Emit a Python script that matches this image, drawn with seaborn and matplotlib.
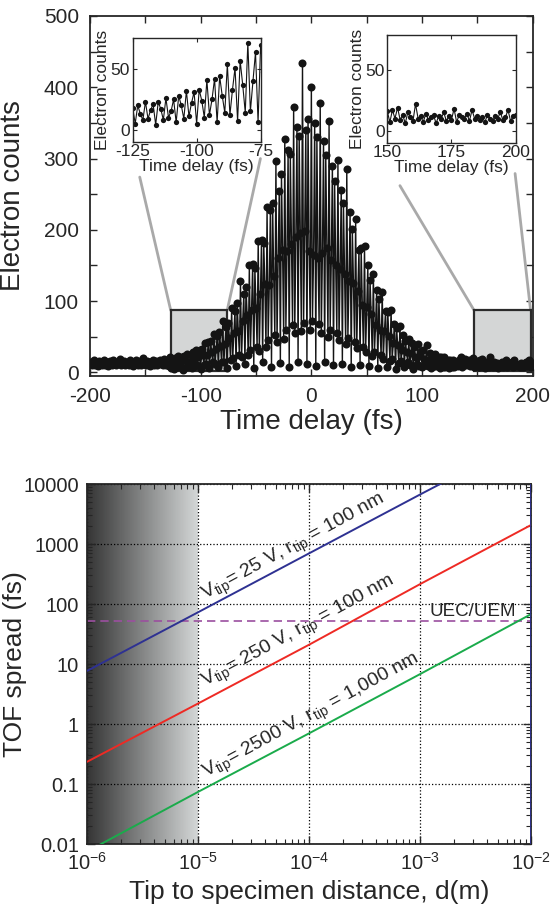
import numpy as np
import pandas as pd
import matplotlib
matplotlib.use('Agg')
import matplotlib.pyplot as plt
from matplotlib.patches import Rectangle
from matplotlib.colors import LinearSegmentedColormap
from matplotlib.ticker import MultipleLocator, LogLocator, NullFormatter
import seaborn as sns

sns.set_style('ticks')
plt.rcParams['font.family'] = ['Liberation Sans', 'DejaVu Sans']
plt.rcParams['mathtext.fontset'] = 'custom'
plt.rcParams['mathtext.rm'] = 'Liberation Sans'
plt.rcParams['mathtext.it'] = 'Liberation Sans:italic'
plt.rcParams['mathtext.bf'] = 'Liberation Sans:bold'
plt.rcParams['axes.unicode_minus'] = False

# ---- top panel: electron counts vs time delay (1 fs scan grid) ----
time_delay = np.arange(-200, 201)

counts_left_baseline = [
    12, 15, 10, 14, 17, 11, 13, 9, 16, 12,
    14, 10, 13, 18, 11, 15, 9, 12, 16, 13,
    11, 17, 12, 14, 10, 15, 13, 19, 11, 14,
    12, 16, 10, 13, 15, 11, 18, 12, 14, 9,
    15, 12, 17, 11, 13, 16, 10, 14, 20, 12,
    13, 11, 16, 14, 9, 15, 12, 18, 11, 14,
    16, 10, 13, 17, 12, 15, 11, 19, 13, 10,
]  # -200 .. -131

counts_fringes = [
    12, 9, 21, 6, 15, 18, 5, 20,
    13, 8, 23, 9, 16, 21, 4, 23,
    17, 8, 26, 10, 15, 25, 6, 28,
    20, 9, 32, 11, 22, 31, 5, 33,
    24, 10, 41, 12, 25, 42, 6, 44,
    28, 14, 54, 12, 33, 51, 7, 57,
    37, 14, 72, 15, 40, 64, 6, 70,
    48, 17, 90, 20, 55, 86, 9, 98,
    58, 25, 128, 21, 72, 110, 12, 120,
    80, 24, 150, 31, 88, 152, 6, 146,
    90, 36, 185, 30, 110, 186, 14, 181,
    124, 35, 232, 45, 122, 228, 7, 238,
    135, 52, 296, 43, 160, 255, 13, 279,
    172, 47, 328, 60, 170, 312, 8, 306,
    180, 66, 372, 55, 190, 344, 15, 331,
    195, 58, 434, 70, 198, 340, 12, 356,
    170, 60, 401, 72, 165, 350, 9, 330,
    160, 68, 378, 55, 168, 325, 14, 305,
    175, 50, 352, 60, 158, 290, 10, 268,
    150, 55, 298, 45, 145, 256, 12, 238,
    138, 40, 285, 48, 128, 225, 7, 201,
    126, 42, 215, 34, 114, 172, 11, 174,
    95, 35, 178, 28, 92, 150, 9, 130,
    82, 23, 138, 28, 67, 116, 6, 103,
    60, 24, 113, 19, 58, 86, 8, 85,
    51, 16, 88, 19, 41, 68, 5, 62,
    38, 13, 65, 16, 31, 52, 7, 44,
    28, 14, 47, 10, 27, 41, 5, 36,
    22, 12, 40, 9, 23, 30, 8, 31,
    19, 11, 38, 9, 18, 27, 6, 22,
    16, 9, 26, 9, 15, 21, 6, 21,
    14, 8, 21, 8, 13, 18, 6, 17,
    12, 8, 18, 8, 12,
]  # -130 .. 130

counts_right_baseline = [
    14, 9, 18, 11, 21, 8, 15, 12, 19, 10,
    13, 17, 9, 15, 11, 20, 8, 14, 12, 16,
    7, 17, 10, 19, 9, 13, 6, 15, 11, 8,
    22, 10, 12, 7, 14, 9, 11, 13, 6, 12,
    10, 15, 8, 12, 9, 18, 7, 13, 11, 10,
    14, 8, 17, 10, 12, 9, 11, 7, 13, 10,
    8, 12, 10, 15, 9, 11, 17, 8, 12, 13,
]  # 131 .. 200

counts = np.array(counts_left_baseline + counts_fringes + counts_right_baseline)
scan = pd.DataFrame({'delay': time_delay, 'counts': counts})

zoom_windows = [(-125, -75), (150, 200)]
zoom_boxes = [(-127, -76), (147, 198)]
box_y = (2, 87)
# connector ends (from box corner up toward the inset)
connectors = [((-127, 87), (-155, 274)), ((-76, 87), (-46, 300)),
              ((147, 87), (80, 262)), ((198, 87), (184, 279))]

# ---- bottom panel: TOF spread vs tip-specimen distance ----
distance = [1e-6, 1e-5, 1e-4, 1e-3, 1e-2]
tof_25V = [7.7, 73, 700, 6700, 62000]
tof_250V = [0.235, 2.2, 21, 215, 2080]
tof_2500V = [0.0075, 0.074, 0.70, 6.8, 68]
uec_level = 52

fig = plt.figure(figsize=(5.55, 9.09), dpi=100)

# main top axes
ax1 = fig.add_axes([0.162, 0.5864, 0.798, 0.396])
for (x0, x1) in zoom_boxes:
    ax1.add_patch(Rectangle((x0, box_y[0]), x1 - x0, box_y[1] - box_y[0],
                            facecolor='#d4d6d6', edgecolor='#2b2b2b', lw=1.6, zorder=1))
for (a, b) in connectors:
    ax1.plot([a[0], b[0]], [a[1], b[1]], color='#a9a9a9', lw=2, zorder=0.8)

sns.lineplot(data=scan, x='delay', y='counts', ax=ax1, sort=False, color='#141414',
             lw=1.0, marker='o', markersize=5.8, markeredgewidth=0, zorder=3)
ax1.set_xlim(-200, 200)
ax1.set_ylim(-5, 500)
ax1.xaxis.set_major_locator(MultipleLocator(100))
ax1.xaxis.set_minor_locator(MultipleLocator(50))
ax1.yaxis.set_major_locator(MultipleLocator(100))
ax1.yaxis.set_minor_locator(MultipleLocator(50))
ax1.tick_params(which='both', direction='in', top=True, right=True, length=5, width=1,
                labelsize=15, pad=8)
ax1.set_xlabel('Time delay (fs)', fontsize=20, labelpad=2)
ax1.set_ylabel('Electron counts', fontsize=20)
ax1.yaxis.set_label_coords(-0.145, 0.5)
for s in ax1.spines.values():
    s.set_linewidth(1.3)

# insets
inset_rects = [[0.239, 0.8441, 0.2306, 0.1138], [0.6978, 0.843, 0.2314, 0.1185]]
inset_ylims = [(-10, 75.5), (-10, 79)]
for rect, (lo, hi), ylim in zip(inset_rects, zoom_windows, inset_ylims):
    axi = fig.add_axes(rect)
    sub = scan[(scan['delay'] >= lo - 1) & (scan['delay'] <= hi + 1)]
    sns.lineplot(data=sub, x='delay', y='counts', ax=axi, sort=False, color='#141414',
                 lw=0.8, marker='o', markersize=3.8, markeredgewidth=0)
    axi.set_xlim(lo, hi)
    axi.set_ylim(*ylim)
    axi.set_xticks([lo, (lo + hi) / 2, hi])
    axi.set_xticklabels([f'{v:g}' for v in [lo, (lo + hi) / 2, hi]])
    axi.set_yticks([0, 50])
    axi.tick_params(direction='in', top=True, right=True, length=3, width=0.8,
                    labelsize=12.5, pad=2)
    axi.set_xlabel('Time delay (fs)', fontsize=12.5, labelpad=0)
    axi.set_ylabel('Electron counts', fontsize=12.5, labelpad=0)
    for s in axi.spines.values():
        s.set_linewidth(1)

# bottom axes
ax2 = fig.add_axes([0.157, 0.0715, 0.8, 0.396])
ax2.set_xscale('log')
ax2.set_yscale('log')

shade = LinearSegmentedColormap.from_list('shade', ['#353535', '#d3d6d6'])
edges = np.logspace(-6, -5, 201)
ax2.pcolormesh(edges, [0.01, 10000], np.linspace(0, 1, 200)[None, :], cmap=shade,
               shading='flat', zorder=0)

tof = pd.DataFrame({
    'distance': distance * 3,
    'tof': tof_25V + tof_250V + tof_2500V,
    'series': ['25 V'] * 5 + ['250 V'] * 5 + ['2500 V'] * 5,
})
sns.lineplot(data=tof, x='distance', y='tof', hue='series', ax=ax2, legend=False,
             palette={'25 V': '#2e3192', '250 V': '#ee2a24', '2500 V': '#1aab4b'},
             lw=1.4, zorder=3)
ax2.axhline(uec_level, color='#9b4f9f', ls=(0, (5, 3)), lw=1.2, zorder=2)
ax2.axvline(1e-2, color='#2e3192', lw=2, zorder=4)

ax2.set_xlim(1e-6, 1e-2)
ax2.set_ylim(0.01, 10000)
ax2.set_xticks([1e-6, 1e-5, 1e-4, 1e-3, 1e-2],
               [r'$10^{-6}$', r'$10^{-5}$', r'$10^{-4}$', r'$10^{-3}$', r'$10^{-2}$'])
ax2.set_yticks([0.01, 0.1, 1, 10, 100, 1000, 10000],
               ['0.01', '0.1', '1', '10', '100', '1000', '10000'])
ax2.xaxis.set_minor_locator(LogLocator(base=10, subs=np.arange(2, 10), numticks=20))
ax2.yaxis.set_minor_locator(LogLocator(base=10, subs=np.arange(2, 10), numticks=20))
ax2.xaxis.set_minor_formatter(NullFormatter())
ax2.yaxis.set_minor_formatter(NullFormatter())
ax2.tick_params(which='major', direction='in', top=True, right=True, length=6, width=1,
                labelsize=14.5, pad=6)
ax2.tick_params(which='minor', direction='in', top=True, right=True, length=3.5, width=0.8)
ax2.grid(which='major', ls=':', color='k', lw=0.9)
ax2.set_xlabel('Tip to specimen distance, d(m)', fontsize=19, labelpad=4)
ax2.set_ylabel('TOF spread (fs)', fontsize=19)
ax2.yaxis.set_label_coords(-0.135, 0.5)
for s in ax2.spines.values():
    s.set_linewidth(1.3)

ax2.text(7.3e-5, 880, r'V$_{\rm tip}$= 25 V, r$_{\rm tip}$ = 100 nm', rotation=28.5,
         ha='center', va='center', fontsize=14, rotation_mode='anchor', zorder=5)
ax2.text(8.0e-5, 34, r'V$_{\rm tip}$= 250 V, r$_{\rm tip}$ = 100 nm', rotation=28.5,
         ha='center', va='center', fontsize=14, rotation_mode='anchor', zorder=5)
ax2.text(1.05e-4, 1.3, r'V$_{\rm tip}$= 2500 V, r$_{\rm tip}$ = 1,000 nm', rotation=28.5,
         ha='center', va='center', fontsize=14, rotation_mode='anchor', zorder=5)
ax2.text(3.0e-3, 75, 'UEC/UEM', ha='center', va='center', fontsize=13.5, zorder=5)

fig.savefig('out.png', dpi=100)
